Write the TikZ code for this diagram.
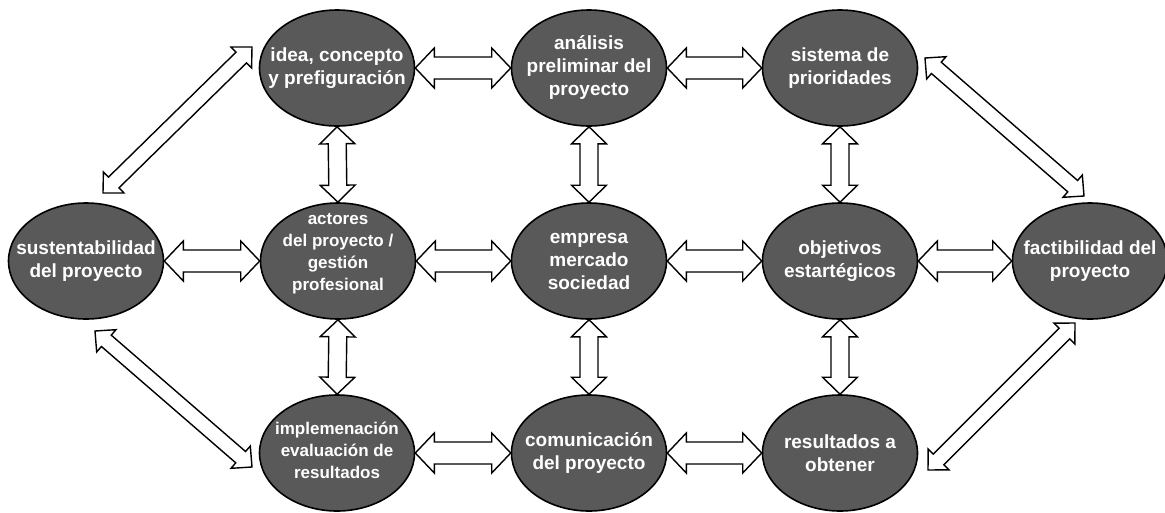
\documentclass[tikz,border=0pt]{standalone}
\usepackage{fontspec}
\setmainfont{Liberation Sans}
\usetikzlibrary{calc,shapes.geometric}
\definecolor{nodegray}{RGB}{89,89,89}
\tikzset{
  bubble/.style={ellipse, draw=black, line width=1.6pt, fill=nodegray,
    minimum width=155pt, minimum height=116pt, inner sep=0pt},
  btext/.style={text=white, align=center, inner sep=0pt,
    font=\bfseries\fontsize{19}{23}\selectfont},
  btextsmall/.style={btext, font=\bfseries\fontsize{17}{22}\selectfont},
  hollow/.style={draw=black, line width=1.4pt, fill=white, line join=miter},
}
% hollow double-headed arrow between two points
% #1,#2 end points; #3 shaft half width; #4 head half width; #5 head length (pt)
\newcommand\hollowarrow[5]{%
  \draw[hollow] let \p1=(#1), \p2=(#2),
      \n1={atan2(\y2-\y1,\x2-\x1)}, \n2={veclen(\x2-\x1,\y2-\y1)} in
    [shift={(\p1)}, rotate=\n1]
    (0pt,0pt) -- (#5pt,#4pt) -- (#5pt,#3pt) -- (\n2-#5pt,#3pt) -- (\n2-#5pt,#4pt)
    -- (\n2,0pt) -- (\n2-#5pt,-#4pt) -- (\n2-#5pt,-#3pt) -- (#5pt,-#3pt)
    -- (#5pt,-#4pt) -- cycle;}
\begin{document}
\begin{tikzpicture}[x=1pt,y=-1pt]
\useasboundingbox (0,0) rectangle (1165,512);

% ellipses: three rows, five columns
\node[bubble] (idea)      at (337,68)  {};
\node[bubble] (analisis)  at (589,68)  {};
\node[bubble] (sistema)   at (840,68)  {};
\node[bubble] (sust)      at (86,261)  {};
\node[bubble] (actores)   at (338,261) {};
\node[bubble] (empresa)   at (589,261) {};
\node[bubble] (objetivos) at (840,261) {};
\node[bubble] (fact)      at (1090,261) {};
\node[bubble] (impl)      at (337,453) {};
\node[bubble] (comun)     at (589,453) {};
\node[bubble] (result)    at (840,453) {};

% labels
\node[btext] (idea-t)      at (idea)      {idea, concepto\\y prefiguración};
\node[btext] (analisis-t)  at (analisis)  {análisis\\preliminar del\\proyecto};
\node[btext] (sistema-t)   at (sistema)   {sistema de\\prioridades};
\node[btext] (sust-t)      at (sust)      {sustentabilidad\\del proyecto};
\node[btextsmall] (actores-t) at ($(actores)+(0,-7)$) {actores\\del proyecto /\\gestión\\profesional};
\node[btext] (empresa-t)   at (empresa)   {empresa\\mercado\\sociedad};
\node[btext] (objetivos-t) at (objetivos) {objetivos\\estartégicos};
\node[btext] (fact-t)      at (fact)      {factibilidad del\\proyecto};
\node[btextsmall] (impl-t) at ($(impl)+(0,-3)$) {implemenación\\evaluación de\\resultados};
\node[btext] (comun-t)     at (comun)     {comunicación\\del proyecto};
\node[btext] (result-t)    at (result)    {resultados a\\obtener};

% horizontal links
\hollowarrow{idea.east}{analisis.west}{11}{20}{19}
\hollowarrow{analisis.east}{sistema.west}{11}{20}{19}
\hollowarrow{sust.east}{actores.west}{11}{20}{19}
\hollowarrow{actores.east}{empresa.west}{11}{20}{19}
\hollowarrow{empresa.east}{objetivos.west}{11}{20}{19}
\hollowarrow{objetivos.east}{fact.west}{11}{20}{19}
\hollowarrow{impl.east}{comun.west}{11}{20}{19}
\hollowarrow{comun.east}{result.west}{11}{20}{19}

% vertical links
\hollowarrow{idea.south}{actores.north}{9}{17.5}{17}
\hollowarrow{actores.south}{impl.north}{9}{17.5}{17}
\hollowarrow{analisis.south}{empresa.north}{9}{17.5}{17}
\hollowarrow{empresa.south}{comun.north}{9}{17.5}{17}
\hollowarrow{sistema.south}{objetivos.north}{9}{17.5}{17}
\hollowarrow{objetivos.south}{result.north}{9}{17.5}{17}

% diagonal links to the outer ellipses
\coordinate (tl-a) at (103,193);
\coordinate (tl-b) at (252,47);
\coordinate (bl-a) at (95,331);
\coordinate (bl-b) at (252,467);
\coordinate (tr-a) at (925,58);
\coordinate (tr-b) at (1084,196);
\coordinate (br-a) at (928,470);
\coordinate (br-b) at (1075,323);
\hollowarrow{tl-a}{tl-b}{7.5}{14.75}{15}
\hollowarrow{bl-a}{bl-b}{7.5}{14.75}{15}
\hollowarrow{tr-a}{tr-b}{7.5}{14.75}{15}
\hollowarrow{br-a}{br-b}{7.5}{14.75}{15}
\end{tikzpicture}
\end{document}
